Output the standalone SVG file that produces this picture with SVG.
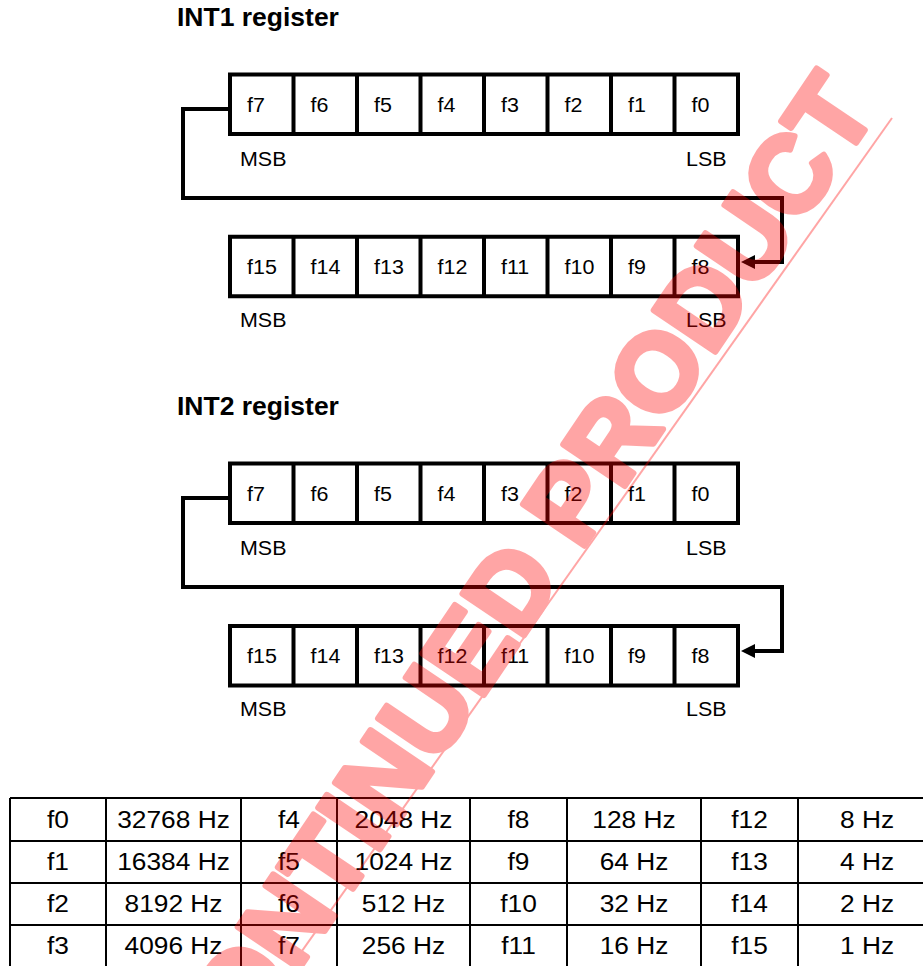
<svg xmlns="http://www.w3.org/2000/svg" width="923" height="966" viewBox="0 0 923 966">
<defs>
<style>
.bg{fill:#fff}
.cell{fill:#fff;stroke:#000;stroke-width:4}
.sep{stroke:#000;stroke-width:4}
.wire{fill:none;stroke:#000;stroke-width:4;stroke-linejoin:miter}
.head{fill:#000}
.title{font-family:"Liberation Sans",Arial,sans-serif;font-weight:bold;font-size:25px;fill:#000}
.lbl{font-family:"Liberation Sans",Arial,sans-serif;font-size:19.5px;fill:#000}
.tt{font-family:"Liberation Sans",Arial,sans-serif;font-size:23.5px;fill:#000;text-anchor:middle}
.tline{stroke:#000;stroke-width:2;fill:none}
.wm{font-family:"Liberation Sans",Arial,sans-serif;font-weight:bold;font-size:108px;fill:#ff0000;stroke:#ff0000;stroke-width:6;stroke-linejoin:round}
</style>
</defs>
<rect class="bg" x="0" y="0" width="923" height="966"/>

<g id="int1">
  <text class="title" transform="translate(177,26) scale(1.06,1)">INT1 register</text>
  <g id="int1-low">
    <rect class="cell" x="230" y="74.5" width="508" height="59.5"/>
    <path class="sep" d="M293.5 74.5V134M357 74.5V134M420.5 74.5V134M484 74.5V134M547.5 74.5V134M611 74.5V134M674.5 74.5V134"/>
    <text class="lbl" transform="translate(247,112) scale(1.1,1)">f7</text>
    <text class="lbl" transform="translate(310.5,112) scale(1.1,1)">f6</text>
    <text class="lbl" transform="translate(374,112) scale(1.1,1)">f5</text>
    <text class="lbl" transform="translate(437.5,112) scale(1.1,1)">f4</text>
    <text class="lbl" transform="translate(501,112) scale(1.1,1)">f3</text>
    <text class="lbl" transform="translate(564.5,112) scale(1.1,1)">f2</text>
    <text class="lbl" transform="translate(628,112) scale(1.1,1)">f1</text>
    <text class="lbl" transform="translate(691.5,112) scale(1.1,1)">f0</text>
    <text class="lbl" transform="translate(240,166) scale(1.1,1)">MSB</text>
    <text class="lbl" transform="translate(686,166) scale(1.1,1)">LSB</text>
  </g>
  <g id="int1-high">
    <rect class="cell" x="230" y="236.75" width="508" height="59.5"/>
    <path class="sep" d="M293.5 236.75V296.25M357 236.75V296.25M420.5 236.75V296.25M484 236.75V296.25M547.5 236.75V296.25M611 236.75V296.25M674.5 236.75V296.25"/>
    <text class="lbl" transform="translate(247,274) scale(1.1,1)">f15</text>
    <text class="lbl" transform="translate(310.5,274) scale(1.1,1)">f14</text>
    <text class="lbl" transform="translate(374,274) scale(1.1,1)">f13</text>
    <text class="lbl" transform="translate(437.5,274) scale(1.1,1)">f12</text>
    <text class="lbl" transform="translate(501,274) scale(1.1,1)">f11</text>
    <text class="lbl" transform="translate(564.5,274) scale(1.1,1)">f10</text>
    <text class="lbl" transform="translate(628,274) scale(1.1,1)">f9</text>
    <text class="lbl" transform="translate(691.5,274) scale(1.1,1)">f8</text>
    <text class="lbl" transform="translate(240,327) scale(1.1,1)">MSB</text>
    <text class="lbl" transform="translate(686,327) scale(1.1,1)">LSB</text>
  </g>
</g>

<g id="int2">
  <text class="title" transform="translate(177,415) scale(1.06,1)">INT2 register</text>
  <g id="int2-low">
    <rect class="cell" x="230" y="463.5" width="508" height="59.5"/>
    <path class="sep" d="M293.5 463.5V523M357 463.5V523M420.5 463.5V523M484 463.5V523M547.5 463.5V523M611 463.5V523M674.5 463.5V523"/>
    <text class="lbl" transform="translate(247,501) scale(1.1,1)">f7</text>
    <text class="lbl" transform="translate(310.5,501) scale(1.1,1)">f6</text>
    <text class="lbl" transform="translate(374,501) scale(1.1,1)">f5</text>
    <text class="lbl" transform="translate(437.5,501) scale(1.1,1)">f4</text>
    <text class="lbl" transform="translate(501,501) scale(1.1,1)">f3</text>
    <text class="lbl" transform="translate(564.5,501) scale(1.1,1)">f2</text>
    <text class="lbl" transform="translate(628,501) scale(1.1,1)">f1</text>
    <text class="lbl" transform="translate(691.5,501) scale(1.1,1)">f0</text>
    <text class="lbl" transform="translate(240,555) scale(1.1,1)">MSB</text>
    <text class="lbl" transform="translate(686,555) scale(1.1,1)">LSB</text>
  </g>
  <g id="int2-high">
    <rect class="cell" x="230" y="626" width="508" height="59.5"/>
    <path class="sep" d="M293.5 626V685.5M357 626V685.5M420.5 626V685.5M484 626V685.5M547.5 626V685.5M611 626V685.5M674.5 626V685.5"/>
    <text class="lbl" transform="translate(247,663) scale(1.1,1)">f15</text>
    <text class="lbl" transform="translate(310.5,663) scale(1.1,1)">f14</text>
    <text class="lbl" transform="translate(374,663) scale(1.1,1)">f13</text>
    <text class="lbl" transform="translate(437.5,663) scale(1.1,1)">f12</text>
    <text class="lbl" transform="translate(501,663) scale(1.1,1)">f11</text>
    <text class="lbl" transform="translate(564.5,663) scale(1.1,1)">f10</text>
    <text class="lbl" transform="translate(628,663) scale(1.1,1)">f9</text>
    <text class="lbl" transform="translate(691.5,663) scale(1.1,1)">f8</text>
    <text class="lbl" transform="translate(240,716) scale(1.1,1)">MSB</text>
    <text class="lbl" transform="translate(686,716) scale(1.1,1)">LSB</text>
  </g>
</g>

<g id="connectors">
  <path class="wire" d="M230 109H183V198H782V262H752"/>
  <polygon class="head" points="741,262 755,255 755,269"/>
  <path class="wire" d="M230 498H183V587H782V651H752"/>
  <polygon class="head" points="741,651 755,644 755,658"/>
</g>

<g id="freq-table">
  <path class="tline" d="M10 798H932M10 841H932M10 883H932M10 925H932M10 967H932"/>
  <path class="tline" d="M10 798V967M106 798V967M241 798V967M337 798V967M470 798V967M567 798V967M701 798V967M798 798V967"/>
  <text class="tt" transform="translate(58,828) scale(1.12,1)">f0</text>
  <text class="tt" transform="translate(173.5,828) scale(1.12,1)">32768 Hz</text>
  <text class="tt" transform="translate(289,828) scale(1.12,1)">f4</text>
  <text class="tt" transform="translate(403.5,828) scale(1.12,1)">2048 Hz</text>
  <text class="tt" transform="translate(518.5,828) scale(1.12,1)">f8</text>
  <text class="tt" transform="translate(634,828) scale(1.12,1)">128 Hz</text>
  <text class="tt" transform="translate(749.5,828) scale(1.12,1)">f12</text>
  <text class="tt" transform="translate(867,828) scale(1.12,1)">8 Hz</text>

  <text class="tt" transform="translate(58,870) scale(1.12,1)">f1</text>
  <text class="tt" transform="translate(173.5,870) scale(1.12,1)">16384 Hz</text>
  <text class="tt" transform="translate(289,870) scale(1.12,1)">f5</text>
  <text class="tt" transform="translate(403.5,870) scale(1.12,1)">1024 Hz</text>
  <text class="tt" transform="translate(518.5,870) scale(1.12,1)">f9</text>
  <text class="tt" transform="translate(634,870) scale(1.12,1)">64 Hz</text>
  <text class="tt" transform="translate(749.5,870) scale(1.12,1)">f13</text>
  <text class="tt" transform="translate(867,870) scale(1.12,1)">4 Hz</text>

  <text class="tt" transform="translate(58,912) scale(1.12,1)">f2</text>
  <text class="tt" transform="translate(173.5,912) scale(1.12,1)">8192 Hz</text>
  <text class="tt" transform="translate(289,912) scale(1.12,1)">f6</text>
  <text class="tt" transform="translate(403.5,912) scale(1.12,1)">512 Hz</text>
  <text class="tt" transform="translate(518.5,912) scale(1.12,1)">f10</text>
  <text class="tt" transform="translate(634,912) scale(1.12,1)">32 Hz</text>
  <text class="tt" transform="translate(749.5,912) scale(1.12,1)">f14</text>
  <text class="tt" transform="translate(867,912) scale(1.12,1)">2 Hz</text>

  <text class="tt" transform="translate(58,954) scale(1.12,1)">f3</text>
  <text class="tt" transform="translate(173.5,954) scale(1.12,1)">4096 Hz</text>
  <text class="tt" transform="translate(289,954) scale(1.12,1)">f7</text>
  <text class="tt" transform="translate(403.5,954) scale(1.12,1)">256 Hz</text>
  <text class="tt" transform="translate(518.5,954) scale(1.12,1)">f11</text>
  <text class="tt" transform="translate(634,954) scale(1.12,1)">16 Hz</text>
  <text class="tt" transform="translate(749.5,954) scale(1.12,1)">f15</text>
  <text class="tt" transform="translate(867,954) scale(1.12,1)">1 Hz</text>
</g>

<g id="watermark" opacity="0.35">
  <line x1="892" y1="118" x2="280" y2="982" stroke="#ff0000" stroke-width="2"/>
  <text class="wm" text-anchor="end" transform="translate(879,109) rotate(-56)">DISCONTINUED PRODUCT</text>
</g>
</svg>
